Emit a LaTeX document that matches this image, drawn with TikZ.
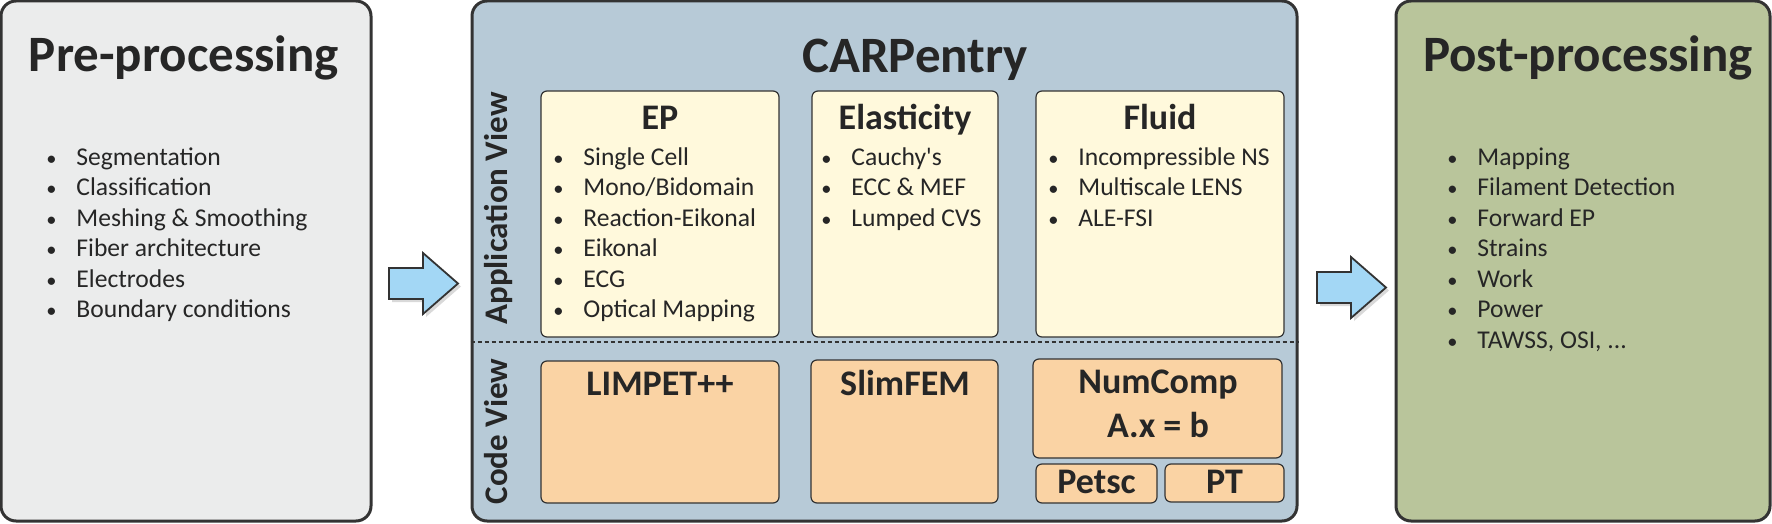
\documentclass[tikz,border=0pt]{standalone}
\usepackage{fontspec}
\setmainfont{Carlito}
\usepackage{xcolor}
\usetikzlibrary{positioning,fit,shadows}
\definecolor{myGray}{HTML}{EBECEC}
\definecolor{myBlue}{HTML}{B7CAD7}
\definecolor{myYellow}{HTML}{FFF9DC}
\definecolor{myOrange}{HTML}{FAD3A4}
\definecolor{myGreen}{HTML}{B9C59B}
\definecolor{myArrow}{HTML}{A3D7F5}
\definecolor{myLine}{HTML}{333333}
\definecolor{myText}{HTML}{262626}
\tikzset{
    stage/.style={draw=myLine,line width=1.5pt,rounded corners=7.5pt,inner sep=0pt},
    module/.style={draw=myLine,line width=0.6pt,rounded corners=3pt,inner sep=0pt},
    bigtitle/.style={anchor=base,inner sep=0pt,text=myText,font=\fontsize{25.5}{30}\selectfont\bfseries},
    subtitle/.style={anchor=base,inner sep=0pt,text=myText,font=\fontsize{18}{21}\selectfont\bfseries},
    viewlabel/.style={anchor=base,rotate=90,inner sep=0pt,text=myText,font=\fontsize{16.5}{19}\selectfont\bfseries},
    item/.style={anchor=base west,inner sep=0pt,text=myText,font=\fontsize{12.8}{15}\selectfont},
    blockarrow/.style={draw=myLine,line width=0.9pt,fill=myArrow,
        drop shadow={opacity=0.3,shadow xshift=1.5pt,shadow yshift=-1.5pt}},
}
\newcommand{\blt}{\makebox[15pt][l]{\scalebox{0.8}{\textbullet}}}
\newcommand{\etcdots}{...}
\begin{document}
\begin{tikzpicture}[x=0.5pt,y=-0.5pt]
    \useasboundingbox (0,0) rectangle (1772,524);

    % the three stages
    \node[stage,fill=myGray,fit={(1,1) (371,521)}] (pre) {};
    \node[stage,fill=myBlue,fit={(472,1) (1297,521)}] (carp) {};
    \node[stage,fill=myGreen,fit={(1396,1) (1770,521)}] (post) {};

    \node[bigtitle] (pretitle) at (184,72) {Pre-processing};
    \node[bigtitle] (carptitle) at (915,73) {CARPentry};
    \node[bigtitle] (posttitle) at (1588,72) {Post-processing};

    % block arrows between the stages
    \foreach \ax/\ay in {389/283.5,1317/287.5}{
        \draw[blockarrow] ({\ax},{\ay-15.5}) -- ++(34,0) -- ++(0,-15) -- ({\ax+69},{\ay})
            -- ({\ax+34},{\ay+30.5}) -- ++(0,-15) -- ({\ax},{\ay+15.5}) -- cycle;
    }

    % split between application and code view
    \coordinate (sep) at (0,342);
    \draw[myLine,line width=0.6pt,dash pattern=on 2pt off 1.5pt] (carp.west |- sep) -- (carp.east |- sep);
    \node[viewlabel] (appview) at (507,208.5) {Application View};
    \node[viewlabel] (codeview) at (507,431.5) {Code View};

    % application view
    \node[module,fill=myYellow,fit={(541,91) (779,337)}] (ep) {};
    \node[module,fill=myYellow,fit={(812,91) (998,337)}] (elast) {};
    \node[module,fill=myYellow,fit={(1036,91) (1284,337)}] (fluid) {};
    \node[subtitle] (eptitle) at (660,130) {EP};
    \node[subtitle] (elasttitle) at (905,130) {Elasticity};
    \node[subtitle] (fluidtitle) at (1160,130) {Fluid};

    % code view
    \node[module,fill=myOrange,fit={(541,361) (779,503)}] (limpet) {};
    \node[module,fill=myOrange,fit={(811,360) (998,503)}] (slim) {};
    \node[module,fill=myOrange,fit={(1033,359) (1282,458)}] (numcomp) {};
    \node[module,fill=myOrange,fit={(1036,464) (1157,503)}] (petsc) {};
    \node[module,fill=myOrange,fit={(1165,464) (1284,502)}] (pt) {};
    \node[subtitle] (limpettitle) at (660,395) {LIMPET++};
    \node[subtitle] (slimtitle) at (905,395) {SlimFEM};
    \node[subtitle] (numtitle) at (1158,393) {NumComp};
    \node[subtitle] (numeq) at (1158,437) {A.x = b};
    \node[subtitle] (petsctitle) at (1096.5,493) {Petsc};
    \node[subtitle] (pttitle) at (1224.5,493) {PT};

    % bullet lists
    \foreach \t [count=\i] in {Segmentation,Classification,Meshing \& Smoothing,Fiber architecture,Electrodes,Boundary conditions}
        \node[item] (pre\i) at (46,{165+30.5*(\i-1)}) {\blt\t};
    \foreach \t [count=\i] in {Single Cell,Mono/Bidomain,Reaction-Eikonal,Eikonal,ECG,Optical Mapping}
        \node[item] (ep\i) at (553,{165+30.5*(\i-1)}) {\blt\t};
    \foreach \t [count=\i] in {Cauchy\textquotesingle s,ECC \& MEF,Lumped CVS}
        \node[item] (elast\i) at (821,{165+30.5*(\i-1)}) {\blt\t};
    \foreach \t [count=\i] in {Incompressible NS,Multiscale LENS,ALE-FSI}
        \node[item] (fluid\i) at (1048,{165+30.5*(\i-1)}) {\blt\t};
    \foreach \t [count=\i] in {Mapping,Filament Detection,Forward EP,Strains,Work,Power,{TAWSS, OSI, \etcdots}}
        \node[item] (post\i) at (1447,{165+30.5*(\i-1)}) {\blt\t};
\end{tikzpicture}
\end{document}
